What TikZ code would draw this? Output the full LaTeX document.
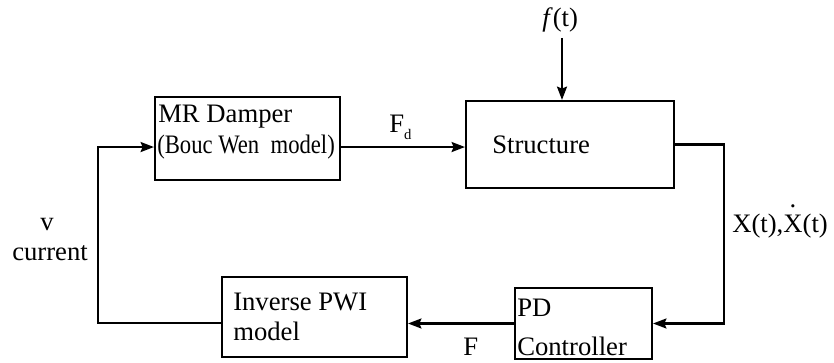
\documentclass[tikz,border=0pt]{standalone}
\usepackage{fontspec}
\setmainfont{Liberation Serif}
\usetikzlibrary{arrows.meta}
\tikzset{
  blk/.style={draw, line width=1.6pt, inner sep=0pt, minimum width=#1},
  txt/.style={anchor=base west, inner sep=0pt, font=\fontsize{20}{24}\selectfont},
  conn/.style={line width=1.6pt},
  arr/.style={conn, -{Stealth[length=10pt,width=7.5pt,inset=1.5pt]}},
}
\begin{document}
\begin{tikzpicture}[x=0.75pt,y=-0.75pt]
\useasboundingbox (0,0) rectangle (834,363);
% boxes
\node[blk=138.75pt, minimum height=62.25pt] (mr)  at (247.5,138.5) {};
\node[blk=156pt,    minimum height=65.25pt] (st)  at (570,144.5) {};
\node[blk=102.75pt, minimum height=53.25pt] (pd)  at (583.5,323.5) {};
\node[blk=138.75pt, minimum height=60pt]    (inv) at (314.5,317) {};
% box texts
\node[txt] (mr1) at (158,123) {MR Damper};
\node[txt] (mr2) at (157,154) {\scalebox{0.85}[1]{(Bouc Wen\ \ model)}};
\node[txt] (st1) at (492,154) {Structure};
\node[txt] (pd1) at (517,316) {PD};
\node[txt] (pd2) at (517,355) {Controller};
\node[txt] (inv1) at (233,310) {Inverse PWI};
\node[txt] (inv2) at (233,340) {model};
% signal labels
\node[txt] (ft) at (542,27) {\textit{f}(t)};
\node[txt] (fd) at (389,133) {F\raisebox{-0.25em}{\fontsize{11}{12}\selectfont d}};
\node[txt] (xl) at (732,233) {X(t),\setbox0\hbox{X}\rlap{\hbox to\wd0{\hss\raisebox{0.95em}{.}\hss}}X(t)};
\node[txt] (fl) at (463,355) {F};
\node[txt] (vl) at (40,230) {v};
\node[txt] (cl) at (12,260) {current};
% connectors
\coordinate (ftop) at (562,38);
\coordinate (rc) at (724,230);
\coordinate (lc) at (98,230);
\draw[arr] (ftop) -- (ftop |- st.north);
\draw[arr] ([yshift=-6.4pt]mr.east) -- ([yshift=-1.9pt]st.west);
\draw[arr] (st.east) -| (rc) |- (pd.east);
\draw[arr] (pd.west) -- (inv.east |- pd.west);
\draw[arr] ([yshift=-4.5pt]inv.west) -| (lc) |- ([yshift=-6.4pt]mr.west);
\end{tikzpicture}
\end{document}
